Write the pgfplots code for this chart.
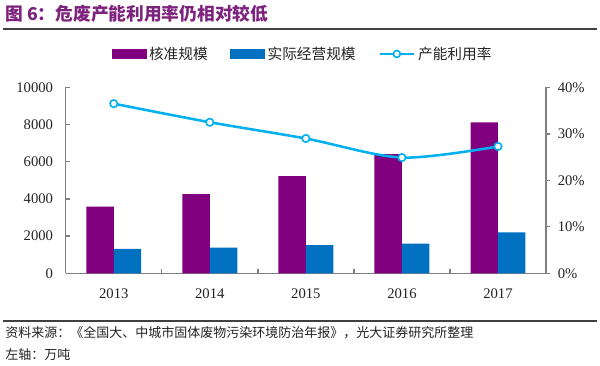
\documentclass[border=0pt]{standalone}
\usepackage{pgfplots}
\pgfplotsset{compat=1.18}
\usepackage{fontspec}
\setmainfont{Liberation Serif}
\newfontfamily\cjk{Noto Sans CJK SC}
\definecolor{barpurple}{RGB}{128,0,128}
\definecolor{barblue}{RGB}{0,112,192}
\definecolor{linecyan}{RGB}{0,176,240}
\definecolor{titlepurple}{RGB}{125,35,125}
\definecolor{axisgray}{RGB}{128,128,128}
\definecolor{textdark}{RGB}{35,35,35}
\begin{document}
\begin{tikzpicture}
\useasboundingbox (0,0) rectangle (450pt,273.75pt);
\node[anchor=west, text=titlepurple, font=\cjk\bfseries\fontsize{13.3pt}{16pt}\selectfont, inner sep=0] at (3.75pt,263.25pt) {图 6：危废产能利用率仍相对较低};
\draw[line width=1.1pt, color=black!75] (2.25pt,252pt) -- (447.75pt,252pt);
\draw[line width=1.1pt, color=black!75] (2.25pt,33pt) -- (447.75pt,33pt);
\node[anchor=west, text=textdark, font=\cjk\fontsize{9.75pt}{12pt}\selectfont, inner sep=0] at (3.75pt,24pt) {资料来源：《全国大、中城市固体废物污染环境防治年报》，光大证券研究所整理};
\node[anchor=west, text=textdark, font=\cjk\fontsize{9.75pt}{12pt}\selectfont, inner sep=0] at (3.75pt,7.5pt) {左轴：万吨};

\begin{axis}[
  at={(49.3pt,68.8pt)}, anchor=south west,
  width=360.2pt, height=139.4pt, scale only axis,
  xmin=-0.5, xmax=4.5, ymin=0, ymax=10000,
  axis x line*=bottom, axis y line*=left,
  axis line style={-, draw=axisgray, line width=1.1pt},
  xtick={0,1,2,3,4},
  xticklabels={2013,2014,2015,2016,2017},
  minor xtick={0.5,1.5,2.5,3.5},
  major x tick style={draw=none},
  minor x tick style={draw=axisgray, line width=1pt},
  minor tick length=3pt,
  ytick={0,2000,4000,6000,8000,10000},
  scaled y ticks=false,
  major y tick style={draw=axisgray, line width=1pt},
  major tick length=3pt,
  tick align=inside,
  /pgf/number format/assume math mode=true,
  yticklabel style={/pgf/number format/1000 sep={}, xshift=-6pt},
  xticklabel style={yshift=-8pt},
  tick label style={font=\fontsize{11pt}{13pt}\selectfont, text=textdark},
]
\addplot[ybar, bar width=0.286, bar shift=-0.143, fill=barpurple, draw=none] coordinates {(0,3580) (1,4260) (2,5220) (3,6410) (4,8120)};
\addplot[ybar, bar width=0.286, bar shift=0.143, fill=barblue, draw=none] coordinates {(0,1310) (1,1380) (2,1520) (3,1590) (4,2200)};
\end{axis}

\begin{axis}[
  at={(49.3pt,68.8pt)}, anchor=south west,
  width=360.2pt, height=139.4pt, scale only axis,
  xmin=-0.5, xmax=4.5, ymin=0, ymax=40,
  axis x line=none, axis y line*=right,
  axis line style={-, draw=axisgray, line width=1.1pt},
  ytick={0,10,20,30,40},
  yticklabel={\pgfmathprintnumber{\tick}\%},
  major y tick style={draw=axisgray, line width=1pt},
  major tick length=3pt,
  tick align=outside,
  /pgf/number format/assume math mode=true,
  yticklabel style={xshift=2.3pt},
  tick label style={font=\fontsize{11pt}{13pt}\selectfont, text=textdark},
  legend style={at={(0.494,1.18)}, anchor=center, draw=none, fill=none,
    font=\cjk\fontsize{11pt}{13pt}\selectfont, text=textdark,
    /tikz/every even column/.append style={column sep=15pt}},
  legend columns=3, legend cell align=left,
]
\addlegendimage{legend image code/.code={\fill[barpurple] (0pt,-3.5pt) rectangle (25.5pt,3.5pt);}}
\addlegendentry{核准规模}
\addlegendimage{legend image code/.code={\fill[barblue] (0pt,-3.5pt) rectangle (25.5pt,3.5pt);}}
\addlegendentry{实际经营规模}
\addplot[linecyan, line width=1.9pt, smooth, tension=0.5, mark=*, mark size=2.8pt,
  mark options={fill=white, draw=linecyan, line width=1.2pt},
  legend image code/.code={\draw[linecyan, line width=1.9pt] (0pt,0pt) -- (26pt,0pt); \draw[linecyan, fill=white, line width=1.2pt] (13pt,0pt) circle (2.6pt);}]
  coordinates {(0,36.5) (1,32.5) (2,29.0) (3,24.9) (4,27.3)};
\addlegendentry{产能利用率}
\end{axis}
\end{tikzpicture}
\end{document}
